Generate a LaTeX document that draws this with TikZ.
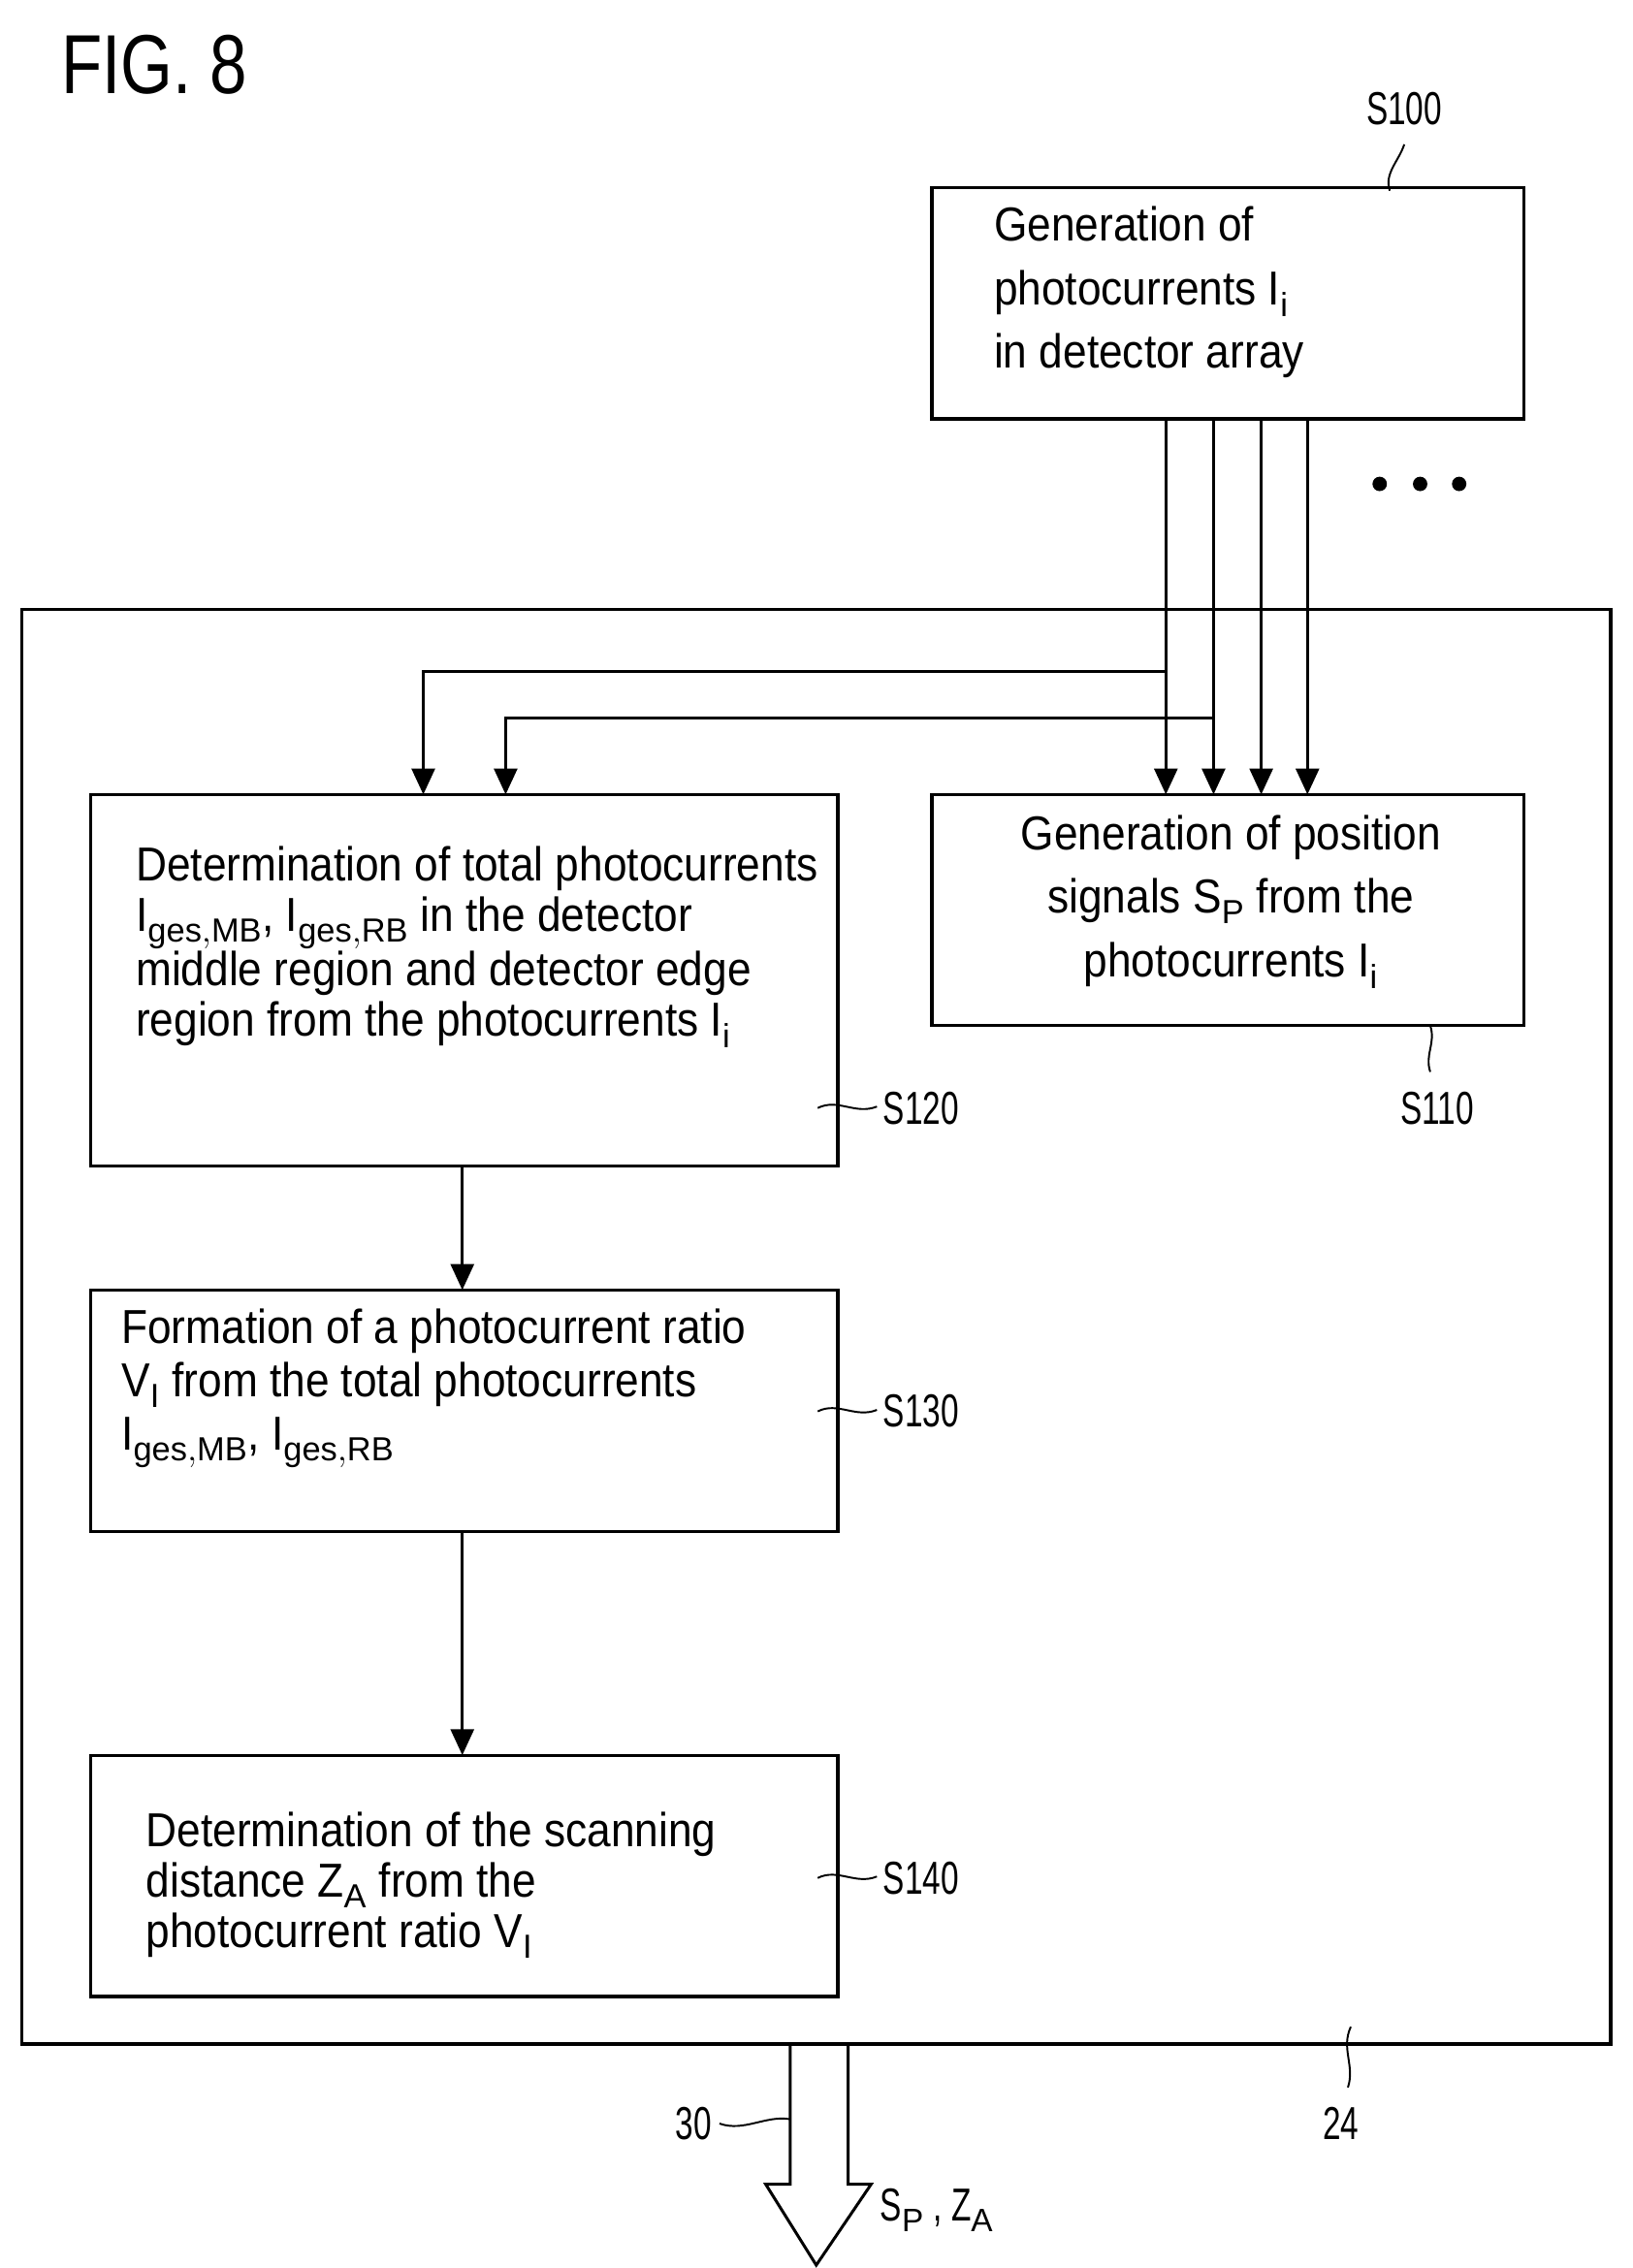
\documentclass[tikz,border=0pt]{standalone}
\usepackage{fontspec}
\setmainfont{Liberation Sans}
\usetikzlibrary{arrows.meta}
\begin{document}
\begin{tikzpicture}[x=1pt,y=-1pt,line width=2.2pt,
  box/.style={draw},
  txt/.style={font=\fontsize{33}{#1}\selectfont\addfontfeatures{FakeStretch=0.9},align=left,anchor=north west,inner sep=0},
  txt/.default=36,
  lab/.style={font=\fontsize{32}{32}\selectfont\addfontfeatures{FakeStretch=0.7}},
  arr/.style={-{Triangle[length=18pt,width=16pt]}},
  lead/.style={line width=1.3pt}]
\useasboundingbox (0,0) rectangle (1130,1570);
\node[anchor=west,font=\fontsize{58}{58}\selectfont\addfontfeatures{FakeStretch=0.8}] (fig) at (38,45) {FIG. 8};
% frame
\draw[line width=2.4pt] (15,422) rectangle (1115,1415);
% boxes
\draw (645,130) rectangle (1055,290);
\node[txt=44] (t100) at (687,142) {Generation of\\photocurrents I$_\mathrm{i}$\\in detector array};
\draw (645,550) rectangle (1055,710);
\node[txt=44,align=center,anchor=north] (t110) at (852,563) {Generation of position\\signals S$_\mathrm{P}$ from the\\photocurrents I$_\mathrm{i}$};
\draw (63,550) rectangle (580,807);
\node[txt=35] (t120) at (93,585) {Determination of total photocurrents\\I$_\mathrm{ges,MB}$, I$_\mathrm{ges,RB}$ in the detector\\middle region and detector edge\\region from the photocurrents I$_\mathrm{i}$};
\draw (63,893) rectangle (580,1060);
\node[txt=37] (t130) at (83,905) {Formation of a photocurrent ratio\\V$_\mathrm{I}$ from the total photocurrents\\I$_\mathrm{ges,MB}$, I$_\mathrm{ges,RB}$};
\draw (63,1215) rectangle (580,1382);
\node[txt=35] (t140) at (100,1253) {Determination of the scanning\\distance Z$_\mathrm{A}$ from the\\photocurrent ratio V$_\mathrm{I}$};
% arrows from S100
\foreach \x in {807,840,873,905}{\draw[arr] (\x,290) -- (\x,550);}
\draw[arr] (807,465) -- (293,465) -- (293,550);
\draw[arr] (840,497) -- (350,497) -- (350,550);
\draw[arr] (320,807) -- (320,893);
\draw[arr] (320,1060) -- (320,1215);
% dots
\foreach \x in {955,983,1010}{\fill (\x,335) circle (5pt);}
% labels
\node[lab] (l100) at (972,75) {S100};
\draw[lead] (962,132) .. controls (958,120) and (968,112) .. (972,100);
\node[lab] (l110) at (995,767) {S110};
\draw[lead] (990,710) .. controls (994,722) and (986,730) .. (990,742);
\node[lab,anchor=west] (l120) at (607,767) {S120};
\draw[lead] (566,767) .. controls (580,760) and (592,772) .. (607,766);
\node[lab,anchor=west] (l130) at (607,977) {S130};
\draw[lead] (566,977) .. controls (580,970) and (592,982) .. (607,976);
\node[lab,anchor=west] (l140) at (607,1300) {S140};
\draw[lead] (566,1300) .. controls (580,1293) and (592,1305) .. (607,1299);
\node[lab] (l24) at (928,1470) {24};
\draw[lead] (935,1403) .. controls (928,1418) and (938,1430) .. (933,1445);
% output arrow
\draw[line width=2pt] (547,1415) -- (547,1512) -- (530,1512) -- (565,1568) -- (603,1512) -- (587,1512) -- (587,1415);
\node[lab,anchor=east] (l30) at (497,1470) {30};
\draw[lead] (498,1470) .. controls (515,1476) and (530,1464) .. (547,1467);
\node[lab,anchor=west] (out) at (605,1530) {S$_\mathrm{P}$ , Z$_\mathrm{A}$};
\end{tikzpicture}
\end{document}
